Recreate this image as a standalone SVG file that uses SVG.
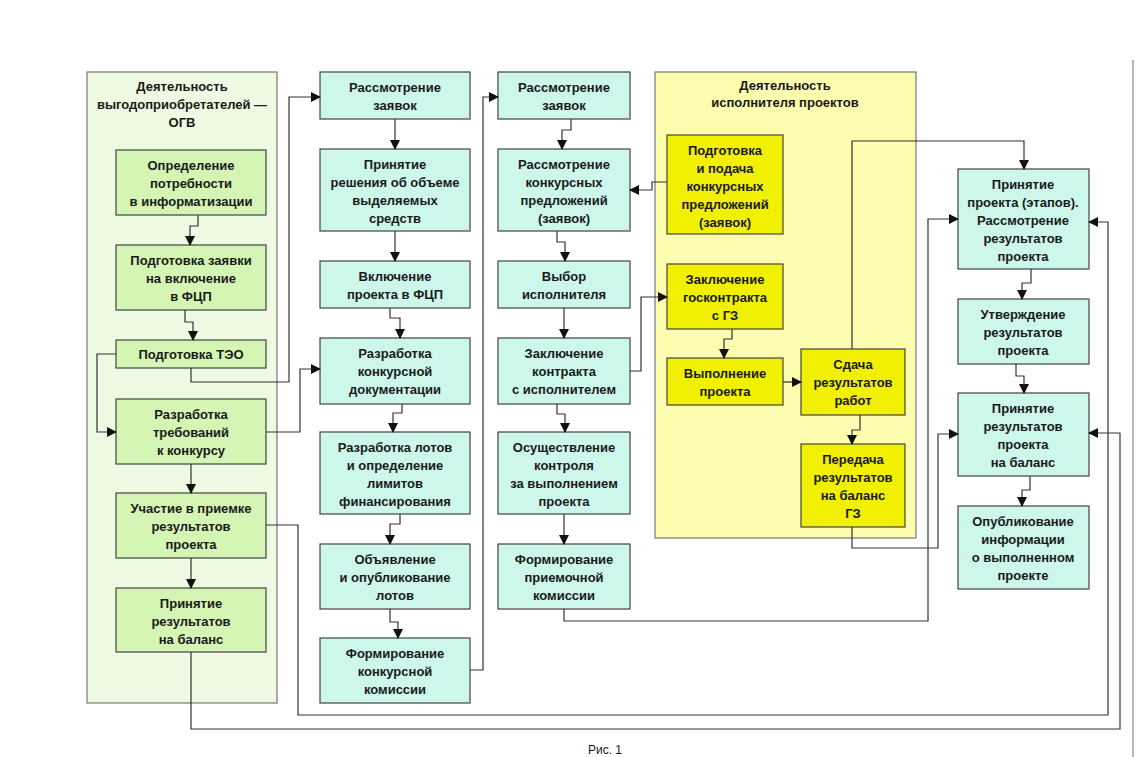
<svg xmlns="http://www.w3.org/2000/svg" width="1141" height="757" viewBox="0 0 1141 757">
<defs>
<marker id="ar" markerWidth="10" markerHeight="10" refX="9" refY="5" orient="auto" markerUnits="userSpaceOnUse"><path d="M0,0 L10,5 L0,10 Z" fill="#111"/></marker>
<style>
.g rect{fill:#d4f5b4;stroke:#444;stroke-width:1.2}
.c rect{fill:#cdf7ea;stroke:#444;stroke-width:1.2}
.y rect{fill:#f0f000;stroke:#444;stroke-width:1.2}
text{font-family:"Liberation Sans",Arial,sans-serif;font-size:13px;font-weight:bold;fill:#1a1a1a;text-anchor:middle}
#conn path{fill:none;stroke:#333;stroke-width:1.2}
#conn path.a{marker-end:url(#ar)}
</style>
</defs>
<rect width="1141" height="757" fill="#fff"/>
<line x1="1133" y1="60" x2="1133" y2="757" stroke="#888" stroke-width="1.2"/>
<g id="panel-ogv"><rect x="87" y="72" width="190" height="631" fill="#eefbe2" stroke="#777" stroke-width="1.2"/>
<text x="182" y="91">Деятельность</text><text x="182" y="109">выгодоприобретателей —</text><text x="182" y="127">ОГВ</text></g>
<g id="panel-isp"><rect x="655" y="72" width="261" height="466" fill="#fdfdb0" stroke="#777" stroke-width="1.2"/>
<text x="785" y="90">Деятельность</text><text x="785" y="107">исполнителя проектов</text></g>

<g id="n1" class="g"><rect x="116" y="150" width="150" height="65"/><text x="191" y="170">Определение</text><text x="191" y="188">потребности</text><text x="191" y="206">в информатизации</text></g>
<g id="n2" class="g"><rect x="116" y="245" width="150" height="65"/><text x="191" y="265">Подготовка заявки</text><text x="191" y="283">на включение</text><text x="191" y="301">в ФЦП</text></g>
<g id="n3" class="g"><rect x="116" y="340" width="150" height="28"/><text x="191" y="359">Подготовка ТЭО</text></g>
<g id="n4" class="g"><rect x="116" y="399" width="150" height="65"/><text x="191" y="419">Разработка</text><text x="191" y="437">требований</text><text x="191" y="455">к конкурсу</text></g>
<g id="n5" class="g"><rect x="116" y="493" width="150" height="65"/><text x="191" y="513">Участие в приемке</text><text x="191" y="531">результатов</text><text x="191" y="549">проекта</text></g>
<g id="n6" class="g"><rect x="116" y="588" width="150" height="64"/><text x="191" y="608">Принятие</text><text x="191" y="626">результатов</text><text x="191" y="644">на баланс</text></g>

<g id="a1" class="c"><rect x="320" y="72" width="150" height="47"/><text x="395" y="92">Рассмотрение</text><text x="395" y="110">заявок</text></g>
<g id="a2" class="c"><rect x="320" y="149" width="150" height="82"/><text x="395" y="169">Принятие</text><text x="395" y="187">решения об объеме</text><text x="395" y="205">выделяемых</text><text x="395" y="223">средств</text></g>
<g id="a3" class="c"><rect x="320" y="261" width="150" height="47"/><text x="395" y="281">Включение</text><text x="395" y="299">проекта в ФЦП</text></g>
<g id="a4" class="c"><rect x="320" y="338" width="150" height="66"/><text x="395" y="358">Разработка</text><text x="395" y="376">конкурсной</text><text x="395" y="394">документации</text></g>
<g id="a5" class="c"><rect x="320" y="432" width="150" height="82"/><text x="395" y="452">Разработка лотов</text><text x="395" y="470">и определение</text><text x="395" y="488">лимитов</text><text x="395" y="506">финансирования</text></g>
<g id="a6" class="c"><rect x="320" y="544" width="150" height="65"/><text x="395" y="564">Объявление</text><text x="395" y="582">и опубликование</text><text x="395" y="600">лотов</text></g>
<g id="a7" class="c"><rect x="320" y="638" width="150" height="65"/><text x="395" y="658">Формирование</text><text x="395" y="676">конкурсной</text><text x="395" y="694">комиссии</text></g>

<g id="b1" class="c"><rect x="498" y="72" width="132" height="47"/><text x="564" y="92">Рассмотрение</text><text x="564" y="110">заявок</text></g>
<g id="b2" class="c"><rect x="498" y="149" width="132" height="82"/><text x="564" y="169">Рассмотрение</text><text x="564" y="187">конкурсных</text><text x="564" y="205">предложений</text><text x="564" y="223">(заявок)</text></g>
<g id="b3" class="c"><rect x="498" y="261" width="132" height="47"/><text x="564" y="281">Выбор</text><text x="564" y="299">исполнителя</text></g>
<g id="b4" class="c"><rect x="498" y="338" width="132" height="66"/><text x="564" y="358">Заключение</text><text x="564" y="376">контракта</text><text x="564" y="394">с исполнителем</text></g>
<g id="b5" class="c"><rect x="498" y="432" width="132" height="82"/><text x="564" y="452">Осуществление</text><text x="564" y="470">контроля</text><text x="564" y="488">за выполнением</text><text x="564" y="506">проекта</text></g>
<g id="b6" class="c"><rect x="498" y="544" width="132" height="65"/><text x="564" y="564">Формирование</text><text x="564" y="582">приемочной</text><text x="564" y="600">комиссии</text></g>

<g id="y1" class="y"><rect x="667" y="135" width="116" height="99"/><text x="725" y="155">Подготовка</text><text x="725" y="173">и подача</text><text x="725" y="191">конкурсных</text><text x="725" y="209">предложений</text><text x="725" y="227">(заявок)</text></g>
<g id="y2" class="y"><rect x="667" y="264" width="116" height="65"/><text x="725" y="284">Заключение</text><text x="725" y="302">госконтракта</text><text x="725" y="320">с ГЗ</text></g>
<g id="y3" class="y"><rect x="667" y="358" width="116" height="47"/><text x="725" y="378">Выполнение</text><text x="725" y="396">проекта</text></g>
<g id="y4" class="y"><rect x="801" y="349" width="104" height="66"/><text x="853" y="369">Сдача</text><text x="853" y="387">результатов</text><text x="853" y="405">работ</text></g>
<g id="y5" class="y"><rect x="801" y="444" width="104" height="83"/><text x="853" y="464">Передача</text><text x="853" y="482">результатов</text><text x="853" y="500">на баланс</text><text x="853" y="518">ГЗ</text></g>

<g id="c1" class="c"><rect x="958" y="169" width="131" height="100"/><text x="1023" y="189">Принятие</text><text x="1023" y="207">проекта (этапов).</text><text x="1023" y="225">Рассмотрение</text><text x="1023" y="243">результатов</text><text x="1023" y="261">проекта</text></g>
<g id="c2" class="c"><rect x="958" y="299" width="131" height="65"/><text x="1023" y="319">Утверждение</text><text x="1023" y="337">результатов</text><text x="1023" y="355">проекта</text></g>
<g id="c3" class="c"><rect x="958" y="393" width="131" height="83"/><text x="1023" y="413">Принятие</text><text x="1023" y="431">результатов</text><text x="1023" y="449">проекта</text><text x="1023" y="467">на баланс</text></g>
<g id="c4" class="c"><rect x="958" y="506" width="131" height="83"/><text x="1023" y="526">Опубликование</text><text x="1023" y="544">информации</text><text x="1023" y="562">о выполненном</text><text x="1023" y="580">проекте</text></g>

<g id="conn">
<path class="a" d="M198 215V226H190V245"/>
<path class="a" d="M185 310V322H193V340"/>
<path class="a" d="M116 354H97V432H116"/>
<path class="a" d="M191 368V382H289V97H320"/>
<path class="a" d="M266 432H300V369H320"/>
<path class="a" d="M191 464V493"/>
<path class="a" d="M191 558V588"/>
<path class="a" d="M266 525H298V715H1108V222H1089"/>
<path class="a" d="M191 652V729H1120V433H1089"/>
<path class="a" d="M395 119V149"/>
<path class="a" d="M395 231V261"/>
<path class="a" d="M390 308V318H400V338"/>
<path class="a" d="M402 404V413H393V432"/>
<path class="a" d="M400 514V524H390V544"/>
<path class="a" d="M390 609V622H398V638"/>
<path class="a" d="M470 670H483V97H498"/>
<path class="a" d="M571 119V130H562V149"/>
<path class="a" d="M557 231V242H565V261"/>
<path class="a" d="M564 308V338"/>
<path class="a" d="M557 404V414H565V432"/>
<path class="a" d="M564 514V544"/>
<path class="a" d="M667 182H652V190H630"/>
<path class="a" d="M630 371H641V297H667"/>
<path class="a" d="M732 329V339H724V358"/>
<path class="a" d="M783 382H801"/>
<path class="a" d="M860 415V430H852V444"/>
<path class="a" d="M852 349V141H1024V169"/>
<path class="a" d="M852 527V548H938V434H958"/>
<path class="a" d="M564 609V621H928V219H958"/>
<path class="a" d="M1031 269V283H1022V299"/>
<path class="a" d="M1016 364V376H1024V393"/>
<path class="a" d="M1030 476V490H1022V506"/>
</g>
<text x="605" y="754" style="font-size:12px;font-weight:normal">Рис. 1</text>
</svg>
